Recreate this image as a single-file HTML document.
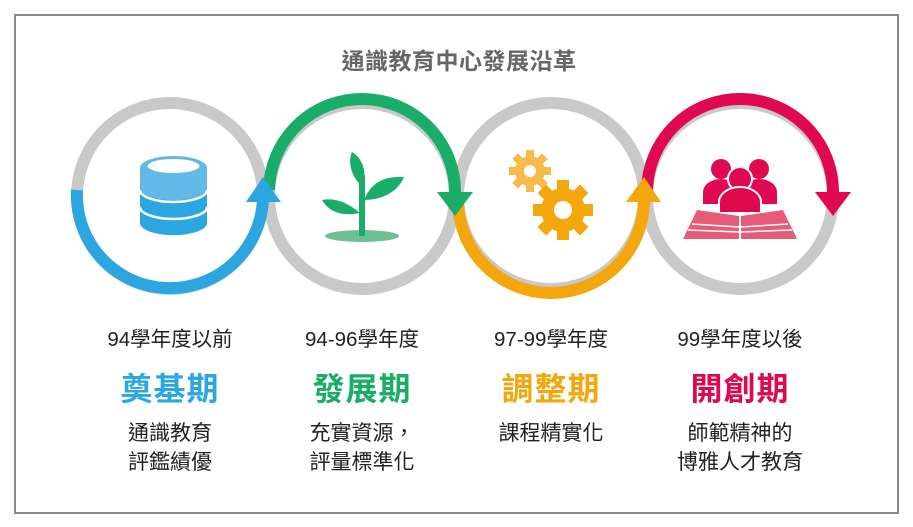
<!DOCTYPE html>
<html><head><meta charset="utf-8"><style>
html,body{margin:0;padding:0;background:#fff;}
body{width:913px;height:527px;position:relative;overflow:hidden;font-family:"Liberation Sans","Noto Sans CJK TC",sans-serif;}
.box{position:absolute;left:14px;top:14px;width:881px;height:496px;border:2px solid #8a8a8a;}
.t{position:absolute;text-align:center;width:200px;white-space:nowrap;}
.yr{font-size:20.5px;color:#222;top:322px;}
.nm{font-size:32px;font-weight:bold;top:364px;letter-spacing:1px;}
.ds{font-size:21px;color:#222;top:419px;line-height:29px;}
</style></head><body>
<div class="box"></div>
<div class="t" style="left:309px;width:300px;top:42px;font-size:23px;font-weight:bold;color:#666;letter-spacing:0.5px;">通識教育中心發展沿革</div>
<svg width="913" height="527" style="position:absolute;left:0;top:0">
<g fill="none" stroke="#c9c9c9" stroke-width="12">
<circle cx="170" cy="196" r="93"/><circle cx="362" cy="196" r="93"/><circle cx="551" cy="196" r="93"/><circle cx="740" cy="196" r="93"/>
</g>
<g fill="none" stroke-width="12">
<path d="M77 190 A93 93 0 1 0 263 200" stroke="#2ba6e1"/>
<path d="M269 190 A93 93 0 1 1 455 194" stroke="#1aad68"/>
<path d="M458 200 A93 93 0 1 0 644 200" stroke="#f4a70d"/>
<path d="M647 190 A93 93 0 1 1 833 194" stroke="#e0094f"/>
</g>
<polygon points="246,202 281,202 263,177" fill="#2ba6e1"/>
<polygon points="437,192 473,192 455,216" fill="#1aad68"/>
<polygon points="626,202 661,202 644,177" fill="#f4a70d"/>
<polygon points="815,192 851,192 833,216" fill="#e0094f"/>
<g>
<path d="M140 168 V223 A33 12 0 0 0 207 223 V168 Z" fill="#2ba6e1"/>
<path d="M140 168 V188 A33 12 0 0 0 207 188 V168 Z" fill="#62b9e8"/>
<ellipse cx="173.5" cy="168" rx="33.5" ry="12" fill="#62b9e8"/>
<ellipse cx="173.5" cy="166" rx="26" ry="7" fill="#fff"/>
<path d="M140 190 A33.5 12 0 0 0 207 190" fill="none" stroke="#fff" stroke-width="2.5"/>
<path d="M140 207 A33.5 12 0 0 0 207 207" fill="none" stroke="#fff" stroke-width="2.5"/>
</g>
<g fill="#1aad68">
<ellipse cx="362" cy="236" rx="37" ry="6" fill="#6dc190"/>
<rect x="359" y="175" width="6" height="61"/>
<path d="M362 186 C350 176 348 160 352 152 C362 158 368 172 362 186Z"/>
<path d="M364 200 C372 180 388 176 404 177 C398 192 382 200 364 200Z"/>
<path d="M360 213 C345 200 332 198 322 200 C330 214 345 216 360 213Z"/>
</g>
<g>
<g fill="#f6bb4a" transform="translate(530,171)">
<circle r="15"/>
<g><rect x="-4" y="-21" width="8" height="42"/><rect x="-21" y="-4" width="42" height="8"/><rect x="-4" y="-21" width="8" height="42" transform="rotate(45)"/><rect x="-4" y="-21" width="8" height="42" transform="rotate(-45)"/></g>
<circle r="6" fill="#fff"/>
</g>
<g fill="#f4a70d" transform="translate(563,210)">
<circle r="22"/>
<g><rect x="-6" y="-30" width="12" height="60"/><rect x="-30" y="-6" width="60" height="12"/><rect x="-6" y="-30" width="12" height="60" transform="rotate(45)"/><rect x="-6" y="-30" width="12" height="60" transform="rotate(-45)"/></g>
<circle r="9" fill="#fff"/>
</g>
</g>
<g fill="#e0094f">
<circle cx="721" cy="169" r="10"/><circle cx="759" cy="169" r="10"/>
<path d="M703 204 V192 A18 13 0 0 1 739 192 V204Z"/>
<path d="M741 204 V192 A18 13 0 0 1 777 192 V204Z"/>
<circle cx="740" cy="179" r="12" stroke="#fff" stroke-width="2"/>
<path d="M719 213 V202 A21 15 0 0 1 761 202 V213Z" stroke="#fff" stroke-width="2"/>
</g>
<g fill="#e75a78">
<path d="M739 239 L683 239 L697 210 L739 216Z"/>
<path d="M741 239 L797 239 L783 210 L741 216Z"/>
</g>
<g stroke="#fff" stroke-width="1.5" fill="none">
<path d="M688 230 L739 232 M692 224 L739 227"/><path d="M792 230 L741 232 M788 224 L741 227"/>
</g>
</svg>
<div class="t yr" style="left:70px">94學年度以前</div>
<div class="t yr" style="left:262px">94-96學年度</div>
<div class="t yr" style="left:451px">97-99學年度</div>
<div class="t yr" style="left:640px">99學年度以後</div>
<div class="t nm" style="left:70px;color:#2ba6e1">奠基期</div>
<div class="t nm" style="left:262px;color:#1aad68">發展期</div>
<div class="t nm" style="left:451px;color:#f4a70d">調整期</div>
<div class="t nm" style="left:640px;color:#e0094f">開創期</div>
<div class="t ds" style="left:70px">通識教育<br>評鑑績優</div>
<div class="t ds" style="left:262px">充實資源，<br>評量標準化</div>
<div class="t ds" style="left:451px">課程精實化</div>
<div class="t ds" style="left:640px">師範精神的<br>博雅人才教育</div>
</body></html>
